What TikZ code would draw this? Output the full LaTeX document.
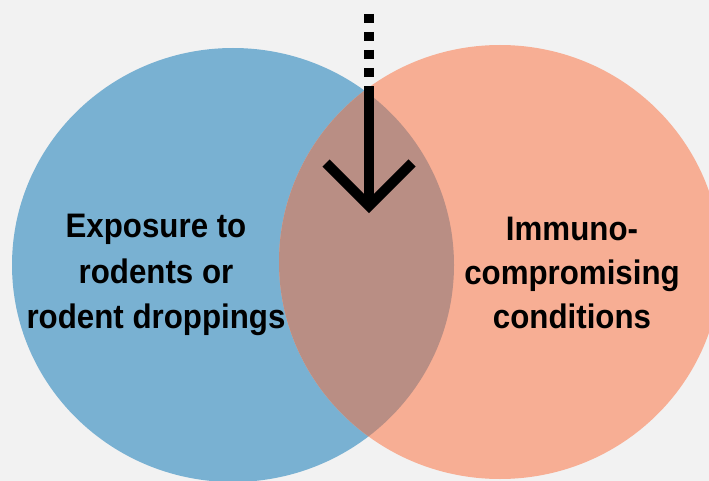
\documentclass[tikz,border=0pt]{standalone}
\usepackage{fontspec}
\setmainfont{Liberation Sans}[FakeStretch=0.92]
\definecolor{bg}{RGB}{242,242,242}
\definecolor{blueset}{RGB}{121,177,210}
\definecolor{salmonset}{RGB}{247,174,148}
\definecolor{overlapset}{RGB}{185,142,132}
\tikzset{
  lbl/.style={anchor=base, inner sep=0pt, font=\fontsize{34}{40}\selectfont\bfseries, text=black},
  arrowline/.style={line width=10pt, draw=black},
}
\begin{document}
\begin{tikzpicture}[x=1pt,y=-1pt]
\fill[bg] (0,0) rectangle (709,481);
\useasboundingbox (0,0) rectangle (709,481);
\begin{scope}
\clip (0,0) rectangle (709,481);
\fill[blueset] (233,265) ellipse [x radius=221, y radius=217];
\fill[salmonset] (500,262) ellipse [x radius=221, y radius=217];
\begin{scope}
\clip (233,265) ellipse [x radius=221, y radius=217];
\fill[overlapset] (500,262) ellipse [x radius=221, y radius=217];
\end{scope}
\end{scope}
% labels
\node[lbl] (l1) at (156,237) {Exposure to};
\node[lbl] (l2) at (156,283) {rodents or};
\node[lbl] (l3) at (156,328) {rodent droppings};
\node[lbl] (r1) at (572,240) {Immuno-};
\node[lbl] (r2) at (572,284) {compromising};
\node[lbl] (r3) at (572,328) {conditions};
% arrow
\coordinate (dtop) at (369,14);
\coordinate (dbot) at (369,78);
\coordinate (stop) at (369,86);
\coordinate (tip) at (369,206);
\coordinate (armL) at (326,163);
\coordinate (armR) at (412,163);
\draw[arrowline, dash pattern=on 9pt off 9pt] (dtop) -- (dbot);
\draw[arrowline] (stop) -- (tip);
\draw[arrowline, miter limit=10] (armL) -- (tip) -- (armR);
\end{tikzpicture}
\end{document}
